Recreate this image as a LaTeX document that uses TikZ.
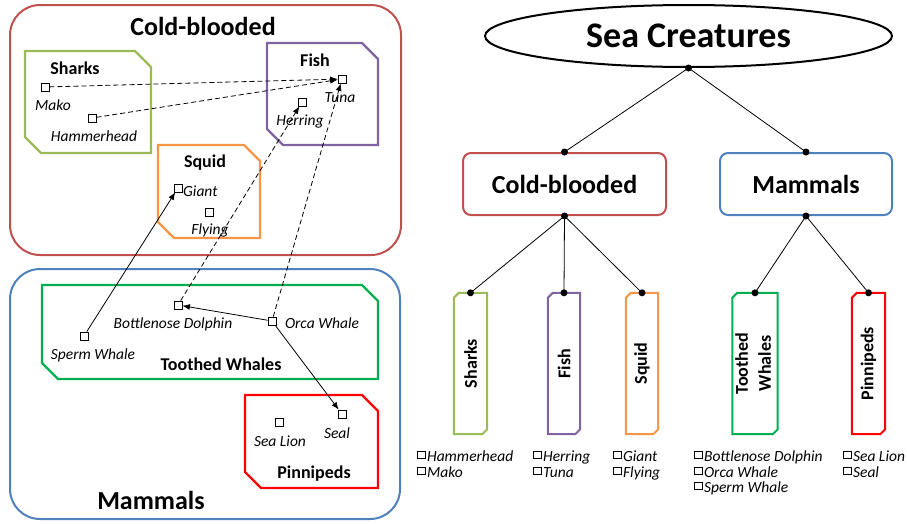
\documentclass[tikz,border=0pt]{standalone}
\usepackage{fontspec}
\setmainfont{Carlito}
\usetikzlibrary{arrows.meta,shapes.geometric}

\definecolor{cbred}{HTML}{C0504D}
\definecolor{mamblue}{HTML}{4F81BD}
\definecolor{sharkgreen}{HTML}{9BBB59}
\definecolor{fishpurple}{HTML}{8064A2}
\definecolor{squidorange}{HTML}{F79646}
\definecolor{whalegreen}{HTML}{00B050}
\definecolor{pinred}{HTML}{FF0000}

% small check box used in the member lists
\newcommand{\boxmark}{\raisebox{3pt}{\setlength{\fboxsep}{0pt}\setlength{\fboxrule}{0.7pt}\fbox{\rule{0pt}{6.6pt}\rule{7pt}{0pt}}}\hspace{1.5pt}}

% outline of a leaf box with clipped top-left and bottom-right corners
\newcommand{\leafoutline}[2]{%
  \draw[#2, line width=2pt]
    ([yshift=-5pt]#1.north west) -- ([xshift=5pt]#1.north west) -- (#1.north east)
    -- ([yshift=5pt]#1.south east) -- ([xshift=-5pt]#1.south east) -- (#1.south west) -- cycle;}

\tikzset{
  region/.style={line width=2pt, rounded corners=30pt},
  grp/.style={line width=2.2pt},
  item/.style={draw, line width=0.8pt, minimum size=8pt, inner sep=0pt, fill=white},
  itemtext/.style={font=\fontsize{15.5}{18}\selectfont\itshape, inner sep=0pt, anchor=base},
  grptext/.style={font=\fontsize{18}{21}\selectfont\bfseries, inner sep=0pt, anchor=base},
  bigtext/.style={font=\fontsize{26}{30}\selectfont\bfseries, inner sep=0pt, anchor=base},
  link/.style={line width=0.8pt, -{Latex[length=7.5pt,width=6pt]}},
  dashlink/.style={link, dash pattern=on 5pt off 3pt},
  branch/.style={line width=0.8pt},
  cat/.style={draw, line width=2pt, rounded corners=8pt, minimum height=62pt, inner sep=0pt,
    font=\fontsize{26}{30}\selectfont\bfseries},
  leaf/.style={minimum height=141pt, inner sep=0pt, font=\fontsize{18}{22}\selectfont\bfseries},
  listtext/.style={font=\fontsize{15.5}{18}\selectfont\itshape, inner sep=0pt, anchor=base west},
}

\begin{document}
\begin{tikzpicture}[x=1pt,y=-1pt]
\useasboundingbox (0,0) rectangle (907,523);

% ---------- left: nested sets ----------
\draw[region, cbred] (10,5) rectangle (401,255);
\draw[region, mamblue] (10,269) rectangle (400,519);
\node[bigtext] (coldL) at (203,35) {Cold-blooded};
\node[bigtext] (mamL) at (151,509) {Mammals};

\draw[grp, sharkgreen] (25,51) -- (135,51) -- (151,67) -- (151,153) -- (41,153) -- (25,137) -- cycle;
\draw[grp, fishpurple] (267,43) -- (362,43) -- (378,59) -- (378,145) -- (283,145) -- (267,129) -- cycle;
\draw[grp, squidorange] (158,145) -- (244,145) -- (260,161) -- (260,238) -- (174,238) -- (158,222) -- cycle;
\draw[grp, whalegreen] (42,285) -- (362,285) -- (378,301) -- (378,379) -- (58,379) -- (42,363) -- cycle;
\draw[grp, pinred] (245,395) -- (362,395) -- (378,411) -- (378,488) -- (261,488) -- (245,472) -- cycle;

\node[grptext] (sharksL) at (75,74) {Sharks};
\node[grptext] (fishL) at (315,66) {Fish};
\node[grptext] (squidL) at (205,167) {Squid};
\node[grptext] (toothL) at (221,370) {Toothed Whales};
\node[grptext] (pinL) at (314,478) {Pinnipeds};

% members
\node[item] (mako) at (45,87) {};
\node[item] (hammer) at (92,118) {};
\node[item] (tuna) at (342,79) {};
\node[item] (herring) at (302,102) {};
\node[item] (giant) at (178,188) {};
\node[item] (flying) at (209,212) {};
\node[item] (dolphin) at (178,305) {};
\node[item] (orca) at (272,321) {};
\node[item] (sperm) at (84,336) {};
\node[item] (seal) at (342,414) {};
\node[item] (sealion) at (279,422) {};

\node[itemtext] (makoT) at (53,110) {Mako};
\node[itemtext] (hammerT) at (94,141) {Hammerhead};
\node[itemtext] (tunaT) at (340,102) {Tuna};
\node[itemtext] (herringT) at (300,125) {Herring};
\node[itemtext, anchor=base west] (giantT) at (183,196) {Giant};
\node[itemtext] (flyingT) at (210,234) {Flying};
\node[itemtext] (dolphinT) at (173,328) {Bottlenose Dolphin};
\node[itemtext] (orcaT) at (322,328) {Orca Whale};
\node[itemtext] (spermT) at (93,359) {Sperm Whale};
\node[itemtext] (sealT) at (337,438) {Seal};
\node[itemtext] (sealionT) at (280,446) {Sea Lion};

% relations
\draw[dashlink] (mako) -- (tuna);
\draw[dashlink] (hammer) -- (tuna);
\draw[dashlink] (dolphin) -- (herring);
\draw[dashlink] (orca) -- (tuna);
\draw[link] (sperm) -- (giant);
\draw[link] (orca) -- (dolphin);
\draw[link] (orca) -- (seal);

% ---------- right: hierarchy ----------
\node[draw, ellipse, line width=2pt, minimum width=407pt, minimum height=62pt, inner sep=0pt,
  font=\fontsize{36}{40}\selectfont\bfseries] (sea) at (688.5,36) {Sea Creatures};
\node[cat, cbred, minimum width=203pt, text=black] (cold) at (564.5,184) {Cold-blooded};
\node[cat, mamblue, minimum width=172pt, text=black] (mam) at (806,184) {Mammals};

\node[leaf, minimum width=33pt] (sharks) at (470.5,363.5) {\rotatebox{90}{Sharks}};
\node[leaf, minimum width=32pt] (fish) at (564,363.5) {\rotatebox{90}{Fish}};
\node[leaf, minimum width=32pt] (squid) at (642,363.5) {\rotatebox{90}{Squid}};
\node[leaf, minimum width=40pt] (tooth) at (755,363.5) {\rotatebox{90}{\begin{tabular}{@{}c@{}}Toothed\\[1pt]Whales\end{tabular}}};
\node[leaf, minimum width=33pt] (pin) at (868.5,363.5) {\rotatebox{90}{Pinnipeds}};

\leafoutline{sharks}{sharkgreen}
\leafoutline{fish}{fishpurple}
\leafoutline{squid}{squidorange}
\leafoutline{tooth}{whalegreen}
\leafoutline{pin}{pinred}

\draw[branch] (sea.south) -- (cold.north);
\draw[branch] (sea.south) -- (mam.north);
\draw[branch] (cold.south) -- (sharks.north);
\draw[branch] (cold.south) -- (fish.north);
\draw[branch] (cold.south) -- (squid.north);
\draw[branch] (mam.south) -- (tooth.north);
\draw[branch] (mam.south) -- (pin.north);

\foreach \p in {sea.south, cold.north, mam.north, cold.south, mam.south,
                sharks.north, fish.north, squid.north, tooth.north, pin.north}
  \fill (\p) circle (3.5pt);

% member lists
\node[listtext] (ls1) at (417,461) {\boxmark Hammerhead};
\node[listtext] (ls2) at (417,477) {\boxmark Mako};
\node[listtext] (lf1) at (533,461) {\boxmark Herring};
\node[listtext] (lf2) at (533,477) {\boxmark Tuna};
\node[listtext] (lq1) at (613,461) {\boxmark Giant};
\node[listtext] (lq2) at (613,477) {\boxmark Flying};
\node[listtext] (lt1) at (694,461) {\boxmark Bottlenose Dolphin};
\node[listtext] (lt2) at (694,477) {\boxmark Orca Whale};
\node[listtext] (lt3) at (694,492) {\boxmark Sperm Whale};
\node[listtext] (lp1) at (843,461) {\boxmark Sea Lion};
\node[listtext] (lp2) at (843,477) {\boxmark Seal};
\end{tikzpicture}
\end{document}
